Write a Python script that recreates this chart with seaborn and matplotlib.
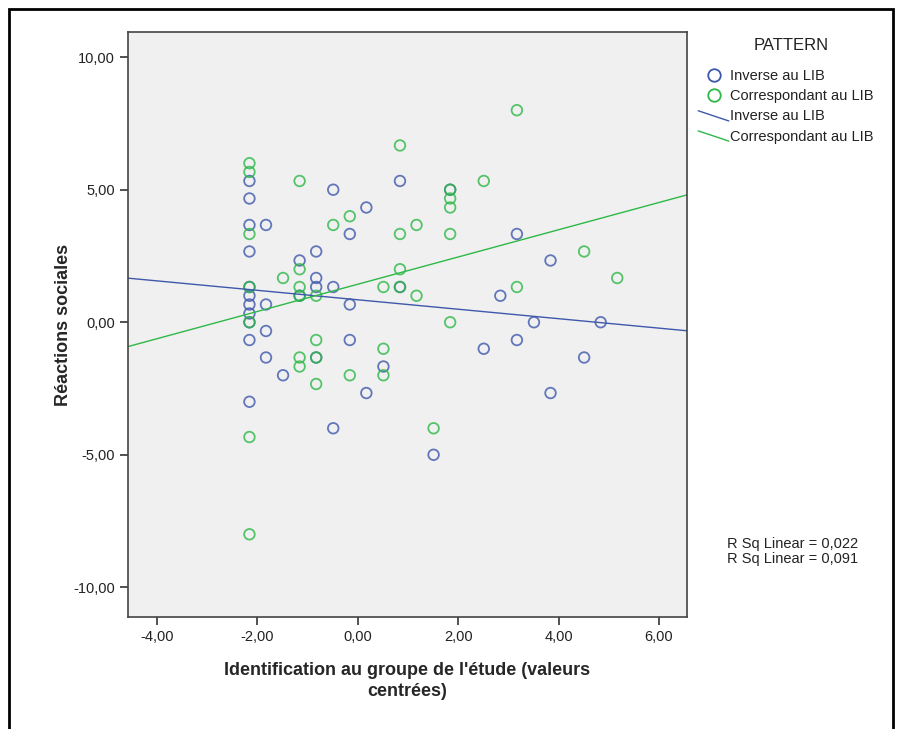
import numpy as np
import pandas as pd
import matplotlib
matplotlib.use("Agg")
import matplotlib.pyplot as plt
import seaborn as sns
from matplotlib.lines import Line2D
from matplotlib.legend_handler import HandlerLine2D
from matplotlib.patches import Rectangle
from matplotlib.ticker import FuncFormatter

# --- data ---
groups = ["Inverse au LIB", "Correspondant au LIB"]
colors = ["#3E58AC", "#2EB848"]

inv_x = [-2.16, -2.16, -2.16, -2.16, -2.16, -2.16, -2.16, -2.16, -2.16, -2.16, -2.16,
         -1.83, -1.83, -1.83, -1.83,
         -1.49,
         -1.16, -1.16,
         -0.83, -0.83, -0.83, -0.83,
         -0.49, -0.49, -0.49,
         -0.16, -0.16, -0.16,
         0.17, 0.17,
         0.51,
         0.84, 0.84,
         1.51,
         1.84,
         2.51,
         2.84,
         3.17, 3.17,
         3.51,
         3.84, 3.84,
         4.51,
         4.84]
inv_y = [5.33, 4.67, 3.67, 2.67, 1.33, 1.00, 0.67, 0.33, 0.00, -0.67, -3.00,
         3.67, 0.67, -0.33, -1.33,
         -2.00,
         2.33, 1.00,
         2.67, 1.67, 1.33, -1.33,
         5.00, 1.33, -4.00,
         3.33, 0.67, -0.67,
         4.33, -2.67,
         -1.67,
         5.33, 1.33,
         -5.00,
         5.00,
         -1.00,
         1.00,
         3.33, -0.67,
         0.00,
         2.33, -2.67,
         -1.33,
         0.00]

cor_x = [-2.16, -2.16, -2.16, -2.16, -2.16, -2.16, -2.16,
         -1.49,
         -1.16, -1.16, -1.16, -1.16, -1.16, -1.16,
         -0.83, -0.83, -0.83, -0.83,
         -0.49,
         -0.16, -0.16,
         0.51, 0.51, 0.51,
         0.84, 0.84, 0.84, 0.84,
         1.17, 1.17,
         1.51,
         1.84, 1.84, 1.84, 1.84, 1.84,
         2.51,
         3.17, 3.17,
         4.51,
         5.17]
cor_y = [6.00, 5.67, 3.33, 1.33, 0.00, -4.33, -8.00,
         1.67,
         5.33, 2.00, 1.33, 1.00, -1.33, -1.67,
         1.00, -0.67, -1.33, -2.33,
         3.67,
         4.00, -2.00,
         1.33, -1.00, -2.00,
         6.67, 3.33, 2.00, 1.33,
         3.67, 1.00,
         -4.00,
         5.00, 4.67, 4.33, 3.33, 0.00,
         5.33,
         8.00, 1.33,
         2.67,
         1.67]

r2_labels = ["R Sq Linear = 0,022", "R Sq Linear = 0,091"]
x_ticks = [-4, -2, 0, 2, 4, 6]
y_ticks = [-10, -5, 0, 5, 10]

df = pd.DataFrame({
    "ident": inv_x + cor_x,
    "reac": inv_y + cor_y,
    "PATTERN": [groups[0]] * len(inv_x) + [groups[1]] * len(cor_x),
})

sns.set_theme(style="ticks")
plt.rcParams["font.family"] = ["Liberation Sans", "DejaVu Sans"]

fig = plt.figure(figsize=(8.97, 7.29), dpi=100)
ax = fig.add_axes([128 / 897, 1 - 617 / 729, 559 / 897, 585 / 729])
ax.set_facecolor("#F0F0F0")
xlim = (-4.58, 6.56)
ylim = (-11.12, 10.95)
ax.set_xlim(xlim)
ax.set_ylim(ylim)

for g, c in zip(groups, colors):
    sub = df[df["PATTERN"] == g]
    sns.regplot(data=sub, x="ident", y="reac", ax=ax, ci=None, truncate=False,
                scatter_kws=dict(facecolors="none", edgecolors=c, s=58, linewidths=1.3),
                line_kws=dict(color=c, lw=1.0))
ax.set_xlim(xlim)
ax.set_ylim(ylim)

fmt = FuncFormatter(lambda v, p: f"{v:.2f}".replace(".", ","))
ax.set_xticks(x_ticks)
ax.set_yticks(y_ticks)
ax.xaxis.set_major_formatter(fmt)
ax.yaxis.set_major_formatter(fmt)
ax.tick_params(axis="both", labelsize=10.5, length=6, width=1.2, color="#333333",
               labelcolor="#222222", direction="out")
for s in ax.spines.values():
    s.set_color("#444444")
    s.set_linewidth(1.2)

ax.set_xlabel("Identification au groupe de l'étude (valeurs\ncentrées)",
              fontsize=13, fontweight="bold", labelpad=13, linespacing=1.3)
ax.set_ylabel("Réactions sociales", fontsize=13, fontweight="bold", labelpad=1)


class SlantHandler(HandlerLine2D):
    def create_artists(self, legend, orig_handle, xdescent, ydescent, width, height,
                       fontsize, trans):
        x0 = -xdescent
        line = Line2D([x0, x0 + width], [-ydescent + height * 0.95, -ydescent - height * 0.05],
                      color=orig_handle.get_color(), lw=orig_handle.get_linewidth())
        line.set_transform(trans)
        return [line]


handles = [
    Line2D([], [], ls="none", marker="o", mfc="none", mec=colors[0], ms=9, mew=1.3),
    Line2D([], [], ls="none", marker="o", mfc="none", mec=colors[1], ms=9, mew=1.3),
    Line2D([], [], color=colors[0], lw=1.0),
    Line2D([], [], color=colors[1], lw=1.0),
]
slant = SlantHandler()
fig.text(791 / 897, 1 - 46 / 729, "PATTERN", fontsize=12, ha="center", va="center",
         color="#222222")
leg = fig.legend(handles, groups + groups, loc="upper left",
                 bbox_to_anchor=(688 / 897, 1 - 59 / 729), frameon=False,
                 fontsize=10.5, handlelength=2.1, handletextpad=0.1,
                 labelspacing=0.42, borderpad=0.2,
                 handler_map={handles[2]: slant, handles[3]: slant})
for t in leg.get_texts():
    t.set_color("#222222")

fig.text(727 / 897, 1 - 544 / 729, r2_labels[0], fontsize=10.5, va="center", color="#222222")
fig.text(727 / 897, 1 - 559 / 729, r2_labels[1], fontsize=10.5, va="center", color="#222222")

fig.add_artist(Rectangle((9 / 897, -0.05), 884 / 897, 1.05 - 9 / 729, fill=False,
                         edgecolor="black", lw=2.0, transform=fig.transFigure))

fig.savefig("out.png", dpi=100, facecolor="white")
